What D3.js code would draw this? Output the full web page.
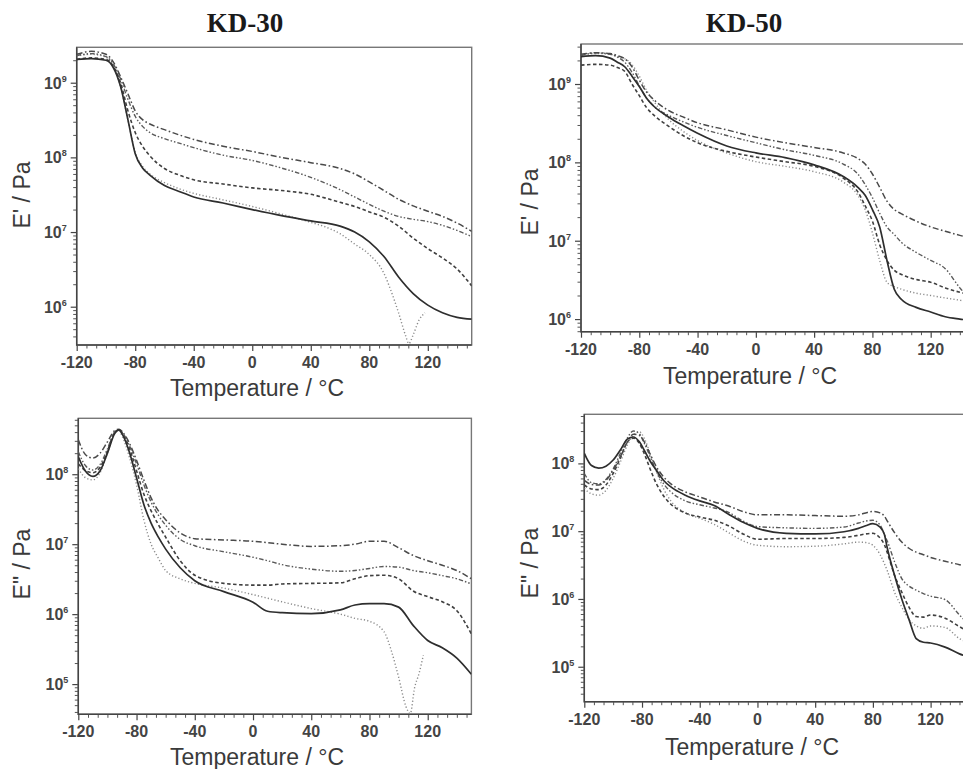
<!DOCTYPE html>
<html>
<head>
<meta charset="UTF-8">
<script src="https://d3js.org/d3.v7.min.js"></script>
<style>
    body {
        margin: 0;
        background-color: #fff;
    }

    svg text {
        font-family: "Liberation Sans", Arial, sans-serif;
        fill: #333;
    }

    .title {
        font-family: "Liberation Serif", "Times New Roman", serif;
        font-weight: bold;
        font-size: 27px;
        fill: #1a1a1a;
    }

    .tick-label {
        font-size: 16px;
        font-weight: bold;
        fill: #444;
    }

    .axis-title {
        font-size: 23px;
        fill: #3a3a3a;
    }

    .domain {
        display: none;
    }
</style>
</head>
<body>
<svg id="chart" width="963" height="769"></svg>
<script>
// ---- data (Pa) ----
var titles = ["KD-30", "KD-50"];
var xTicks = [-120, -80, -40, 0, 40, 80, 120];
var xTitle = "Temperature / °C";
var yTitleStorage = "E' / Pa";
var yTitleLoss = "E\" / Pa";

// KD-30, storage modulus E'
var tempsStorage30 = [-120, -110, -100, -95, -90, -85, -80, -75, -70, -60, -50, -40, -20, 0, 20, 40, 60, 70, 80, 90, 100, 110, 120, 130, 140, 150];
var kd30StorageSolid = [2.05e9, 2.1e9, 2.0e9, 1.6e9, 8.9e8, 3.2e8, 1.12e8, 7.2e7, 5.8e7, 4.2e7, 3.5e7, 2.95e7, 2.45e7, 2.0e7, 1.66e7, 1.41e7, 1.2e7, 1.0e7, 7.4e6, 4.7e6, 2.5e6, 1.5e6, 1.05e6, 8.3e5, 7.2e5, 6.8e5];
var kd30StorageDashed = [2.05e9, 2.15e9, 2.05e9, 1.66e9, 1.0e9, 4.2e8, 2.15e8, 1.41e8, 1.05e8, 7.1e7, 5.8e7, 5.0e7, 4.4e7, 3.9e7, 3.6e7, 3.2e7, 2.5e7, 2.2e7, 1.86e7, 1.58e7, 1.2e7, 8.3e6, 6.0e6, 4.5e6, 3.2e6, 1.9e6];
var kd30StorageDashDotDot = [2.3e9, 2.45e9, 2.24e9, 1.78e9, 1.12e9, 6.0e8, 3.55e8, 2.6e8, 2.15e8, 1.78e8, 1.55e8, 1.35e8, 1.07e8, 9.1e7, 7.2e7, 5.4e7, 3.7e7, 2.95e7, 2.35e7, 1.9e7, 1.62e7, 1.48e7, 1.38e7, 1.23e7, 1.05e7, 8.7e6];
var kd30StorageDashDot = [2.4e9, 2.63e9, 2.4e9, 1.9e9, 1.2e9, 7.1e8, 4.2e8, 3.2e8, 2.8e8, 2.35e8, 2.0e8, 1.74e8, 1.41e8, 1.2e8, 1.0e8, 8.5e7, 7.1e7, 6.0e7, 4.7e7, 3.6e7, 2.75e7, 2.24e7, 1.9e7, 1.62e7, 1.32e7, 1.02e7];
var tempsStorage30Dotted = [-120, -110, -100, -95, -90, -85, -80, -75, -70, -60, -50, -40, -20, 0, 20, 40, 50, 60, 70, 80, 90, 95, 100, 105, 107, 110, 114, 118];
var kd30StorageDotted = [2.3e9, 2.4e9, 2.2e9, 1.66e9, 8.9e8, 3.2e8, 1.17e8, 7.6e7, 6.0e7, 4.6e7, 3.8e7, 3.3e7, 2.7e7, 2.2e7, 1.74e7, 1.35e7, 1.17e7, 9.5e6, 6.9e6, 5.0e6, 2.8e6, 1.6e6, 8.3e5, 4.0e5, 3.2e5, 4.2e5, 6.6e5, 8.3e5];

// KD-50, storage modulus E'
var tempsStorage50 = [-120, -110, -100, -95, -90, -85, -80, -75, -70, -60, -50, -40, -20, 0, 20, 40, 60, 70, 75, 80, 85, 90, 95, 100, 110, 120, 130, 140, 150];
var kd50StorageSolid = [2.24e9, 2.3e9, 2.14e9, 1.9e9, 1.66e9, 1.26e9, 9.3e8, 6.6e8, 5.2e8, 3.8e8, 2.95e8, 2.35e8, 1.62e8, 1.32e8, 1.15e8, 9.3e7, 6.6e7, 4.8e7, 3.8e7, 2.5e7, 1.5e7, 5.6e6, 2.4e6, 1.78e6, 1.41e6, 1.23e6, 1.07e6, 1.0e6, 9.5e5];
var kd50StorageDashed = [1.74e9, 1.78e9, 1.74e9, 1.62e9, 1.45e9, 1.0e9, 7.1e8, 5.0e8, 4.0e8, 2.9e8, 2.2e8, 1.78e8, 1.38e8, 1.17e8, 1.02e8, 8.9e7, 6.3e7, 4.2e7, 2.8e7, 1.78e7, 8.9e6, 5.6e6, 4.2e6, 3.7e6, 3.2e6, 2.95e6, 2.5e6, 2.2e6, 2.0e6];
var kd50StorageDotted = [2.35e9, 2.45e9, 2.4e9, 2.24e9, 2.1e9, 1.78e9, 1.26e9, 8.3e8, 6.0e8, 3.55e8, 2.5e8, 1.9e8, 1.32e8, 1.02e8, 8.9e7, 7.6e7, 5.6e7, 3.8e7, 2.5e7, 1.26e7, 5.6e6, 2.95e6, 2.6e6, 2.4e6, 2.14e6, 2.0e6, 1.86e6, 1.74e6, 1.62e6];
var kd50StorageDashDot = [2.4e9, 2.5e9, 2.45e9, 2.3e9, 2.1e9, 1.66e9, 1.12e9, 7.9e8, 6.3e8, 4.6e8, 3.8e8, 3.2e8, 2.6e8, 2.1e8, 1.78e8, 1.55e8, 1.32e8, 1.12e8, 9.5e7, 7.1e7, 4.8e7, 3.2e7, 2.5e7, 2.2e7, 1.78e7, 1.5e7, 1.32e7, 1.17e7, 1.05e7];
var kd50StorageDashDotDot = [2.3e9, 2.5e9, 2.4e9, 2.2e9, 1.9e9, 1.41e9, 9.5e8, 6.6e8, 5.2e8, 4.0e8, 3.3e8, 2.8e8, 2.2e8, 1.78e8, 1.45e8, 1.23e8, 9.5e7, 7.1e7, 5.2e7, 3.55e7, 2.24e7, 1.5e7, 1.2e7, 9.5e6, 7.1e6, 5.6e6, 4.4e6, 2.5e6, 1.58e6];

// KD-30, loss modulus E"
var tempsLoss30 = [-120, -115, -110, -105, -100, -95, -92, -90, -85, -80, -75, -70, -65, -60, -50, -40, -20, 0, 10, 20, 40, 60, 70, 80, 90, 100, 110, 120, 130, 140, 150];
var kd30LossSolid = [1.78e8, 1.1e8, 9.3e7, 1.12e8, 2.0e8, 3.8e8, 4.3e8, 3.8e8, 2.1e8, 8.9e7, 3.7e7, 2.0e7, 1.26e7, 8.5e6, 4.6e6, 3.0e6, 2.1e6, 1.48e6, 1.1e6, 1.05e6, 1.02e6, 1.15e6, 1.35e6, 1.41e6, 1.41e6, 1.26e6, 6.9e5, 4.2e5, 3.3e5, 2.35e5, 1.38e5];
var kd30LossDashed = [1.41e8, 1.12e8, 1.05e8, 1.26e8, 2.14e8, 4.0e8, 4.3e8, 3.9e8, 2.4e8, 1.12e8, 5.2e7, 3.0e7, 1.9e7, 1.26e7, 5.8e6, 3.6e6, 2.75e6, 2.6e6, 2.6e6, 2.7e6, 2.75e6, 2.8e6, 3.2e6, 3.55e6, 3.6e6, 3.2e6, 2.14e6, 1.78e6, 1.5e6, 1.12e6, 5.2e5];
var kd30LossDashDotDot = [2.1e8, 1.32e8, 1.15e8, 1.38e8, 2.3e8, 4.0e8, 4.3e8, 4.0e8, 2.6e8, 1.41e8, 7.1e7, 4.0e7, 2.6e7, 1.86e7, 1.17e7, 9.5e6, 7.8e6, 6.5e6, 5.8e6, 5.1e6, 4.4e6, 4.1e6, 4.2e6, 4.5e6, 4.8e6, 4.7e6, 4.2e6, 3.9e6, 3.55e6, 3.2e6, 2.7e6];
var kd30LossDashDot = [3.1e8, 1.9e8, 1.7e8, 2.0e8, 2.9e8, 4.2e8, 4.4e8, 4.1e8, 2.8e8, 1.58e8, 8.3e7, 4.6e7, 3.0e7, 2.24e7, 1.45e7, 1.2e7, 1.15e7, 1.1e7, 1.05e7, 1.0e7, 9.3e6, 9.5e6, 1.0e7, 1.1e7, 1.1e7, 8.9e6, 6.9e6, 5.8e6, 5.0e6, 4.2e6, 3.2e6];
var tempsLoss30Dotted = [-120, -115, -110, -105, -100, -95, -92, -90, -85, -80, -75, -70, -65, -60, -50, -40, -20, 0, 20, 40, 60, 70, 80, 90, 95, 100, 105, 108, 111, 114, 117];
var kd30LossDotted = [1.2e8, 8.9e7, 8.3e7, 1.05e8, 2.0e8, 4.0e8, 4.2e8, 3.55e8, 1.78e8, 7.1e7, 2.24e7, 1.0e7, 6.3e6, 4.2e6, 3.2e6, 2.75e6, 2.35e6, 1.9e6, 1.5e6, 1.2e6, 1.0e6, 8.7e5, 7.9e5, 5.6e5, 3.0e5, 1.26e5, 4.8e4, 3.8e4, 8.9e4, 1.41e5, 2.6e5];

// KD-50, loss modulus E"
var tempsLoss50 = [-120, -115, -110, -105, -100, -95, -90, -86, -82, -78, -74, -70, -65, -60, -50, -40, -30, -20, -10, 0, 20, 40, 60, 70, 75, 80, 85, 88, 90, 95, 100, 105, 110, 115, 120, 130, 140, 150];
var kd50LossSolid = [1.41e8, 9.3e7, 8.5e7, 9.1e7, 1.12e8, 1.58e8, 2.3e8, 2.45e8, 2.1e8, 1.5e8, 1.05e8, 7.9e7, 5.6e7, 4.5e7, 3.4e7, 2.8e7, 2.4e7, 1.78e7, 1.35e7, 1.1e7, 9.3e6, 9.1e6, 9.8e6, 1.1e7, 1.2e7, 1.29e7, 1.15e7, 8.9e6, 5.6e6, 2.24e6, 1.0e6, 5.0e5, 2.6e5, 2.3e5, 2.24e5, 1.95e5, 1.55e5, 1.32e5];
var kd50LossDashDot = [5.6e7, 4.9e7, 4.8e7, 5.6e7, 7.9e7, 1.26e8, 2.1e8, 2.7e8, 2.6e8, 2.0e8, 1.32e8, 8.9e7, 6.3e7, 5.0e7, 3.8e7, 3.2e7, 2.7e7, 2.35e7, 1.95e7, 1.74e7, 1.74e7, 1.7e7, 1.66e7, 1.74e7, 1.86e7, 1.95e7, 1.86e7, 1.66e7, 1.41e7, 9.5e6, 6.9e6, 5.6e6, 4.9e6, 4.5e6, 4.1e6, 3.6e6, 3.2e6, 2.8e6];
var kd50LossDashDotDot = [7.1e7, 5.2e7, 5.0e7, 5.8e7, 8.3e7, 1.41e8, 2.4e8, 3.0e8, 2.75e8, 1.9e8, 1.2e8, 7.6e7, 5.0e7, 3.8e7, 2.8e7, 2.45e7, 2.2e7, 1.9e7, 1.41e7, 1.17e7, 1.12e7, 1.1e7, 1.15e7, 1.32e7, 1.41e7, 1.45e7, 1.23e7, 8.9e6, 7.1e6, 3.55e6, 2.0e6, 1.55e6, 1.35e6, 1.2e6, 1.1e6, 9.8e5, 5.8e5, 3.55e5];
var kd50LossDashed = [4.8e7, 4.2e7, 4.1e7, 4.8e7, 7.1e7, 1.2e8, 2.1e8, 2.35e8, 2.0e8, 1.32e8, 7.9e7, 5.0e7, 3.3e7, 2.5e7, 1.86e7, 1.62e7, 1.45e7, 1.2e7, 9.1e6, 7.6e6, 7.8e6, 7.8e6, 8.1e6, 8.7e6, 9.1e6, 9.3e6, 7.9e6, 6.3e6, 4.8e6, 2.24e6, 1.26e6, 7.6e5, 5.5e5, 5.4e5, 5.8e5, 5.2e5, 3.9e5, 3.0e5];
var kd50LossDotted = [4.3e7, 3.55e7, 3.4e7, 4.0e7, 6.0e7, 1.05e8, 1.9e8, 2.6e8, 2.95e8, 2.24e8, 1.32e8, 7.6e7, 4.2e7, 2.8e7, 1.86e7, 1.55e7, 1.26e7, 9.5e6, 7.2e6, 6.2e6, 5.9e6, 6.0e6, 6.5e6, 6.9e6, 6.8e6, 6.2e6, 4.5e6, 3.3e6, 2.6e6, 1.26e6, 7.6e5, 5.0e5, 4.0e5, 3.7e5, 4.0e5, 3.8e5, 2.6e5, 2.1e5];

// ---- drawing ----
var svg = d3.select("#chart");

// line styles, one per sample
var styles = {
    solid: { dash: null, color: "#2e2e2e", width: 1.7 },
    dotted: { dash: "1.2,2.2", color: "#8a8a8a", width: 1.4 },
    dashed: { dash: "3.5,2.5", color: "#404040", width: 1.6 },
    dashDot: { dash: "6,2.5,1.6,2.5", color: "#4a4a4a", width: 1.5 },
    dashDotDot: { dash: "4.5,2,1.5,2,1.5,2", color: "#5a5a5a", width: 1.4 }
};

function zip(temps, vals) {
    return temps.map(function (t, i) { return { t: t, v: vals[i] }; });
}

var panels = [
    {
        id: 1, left: 76.7, right: 471.7, top: 47.3, bottom: 345, yDomain: [3.07e5, 2.98e9],
        yTitle: yTitleStorage, yTitleX: 22, yTitleY: 195, xTitleX: 257, xTitleY: 396,
        title: titles[0], titleX: 245,
        series: [
            { d: zip(tempsStorage30Dotted, kd30StorageDotted), s: "dotted" },
            { d: zip(tempsStorage30, kd30StorageDashed), s: "dashed" },
            { d: zip(tempsStorage30, kd30StorageDashDotDot), s: "dashDotDot" },
            { d: zip(tempsStorage30, kd30StorageDashDot), s: "dashDot" },
            { d: zip(tempsStorage30, kd30StorageSolid), s: "solid" }
        ]
    },
    {
        id: 2, left: 581, right: 974.4, top: 44, bottom: 331.7, yDomain: [6.9e5, 3.24e9],
        yTitle: yTitleStorage, yTitleX: 530, yTitleY: 202, xTitleX: 750, xTitleY: 384,
        title: titles[1], titleX: 744,
        series: [
            { d: zip(tempsStorage50, kd50StorageDotted), s: "dotted" },
            { d: zip(tempsStorage50, kd50StorageDashed), s: "dashed" },
            { d: zip(tempsStorage50, kd50StorageDashDotDot), s: "dashDotDot" },
            { d: zip(tempsStorage50, kd50StorageDashDot), s: "dashDot" },
            { d: zip(tempsStorage50, kd50StorageSolid), s: "solid" }
        ]
    },
    {
        id: 3, left: 78.3, right: 471.4, top: 418.3, bottom: 714.3, yDomain: [3.7e4, 6.3e8],
        yTitle: yTitleLoss, yTitleX: 22, yTitleY: 564, xTitleX: 257, xTitleY: 765,
        series: [
            { d: zip(tempsLoss30Dotted, kd30LossDotted), s: "dotted" },
            { d: zip(tempsLoss30, kd30LossDashed), s: "dashed" },
            { d: zip(tempsLoss30, kd30LossDashDotDot), s: "dashDotDot" },
            { d: zip(tempsLoss30, kd30LossDashDot), s: "dashDot" },
            { d: zip(tempsLoss30, kd30LossSolid), s: "solid" }
        ]
    },
    {
        id: 4, left: 584.3, right: 973.9, top: 414.3, bottom: 701.7, yDomain: [3.05e4, 5.3e8],
        yTitle: yTitleLoss, yTitleX: 530, yTitleY: 563, xTitleX: 752, xTitleY: 755,
        series: [
            { d: zip(tempsLoss50, kd50LossDotted), s: "dotted" },
            { d: zip(tempsLoss50, kd50LossDashed), s: "dashed" },
            { d: zip(tempsLoss50, kd50LossDashDotDot), s: "dashDotDot" },
            { d: zip(tempsLoss50, kd50LossDashDot), s: "dashDot" },
            { d: zip(tempsLoss50, kd50LossSolid), s: "solid" }
        ]
    }
];

panels.forEach(drawPanel);

function drawPanel(p) {
    var x = d3.scaleLinear().domain([-120, 150]).range([p.left, p.right]);
    var y = d3.scaleLog().domain(p.yDomain).range([p.bottom, p.top]);
    var g = svg.append("g");

    g.append("clipPath").attr("id", "clip" + p.id)
        .append("rect")
        .attr("x", p.left).attr("y", p.top)
        .attr("width", p.right - p.left).attr("height", p.bottom - p.top);

    // x ticks: majors every 40, six minor steps between
    var xMinor = d3.range(-120, 150.001, 40 / 6).filter(function (t) {
        return !xTicks.some(function (m) { return Math.abs(m - t) < 0.01; });
    });
    g.append("g").attr("transform", "translate(0," + p.bottom + ")")
        .call(d3.axisBottom(x).tickValues(xMinor).tickSize(3.5).tickFormat(""))
        .selectAll("line").attr("stroke", "#555");
    g.append("g").attr("transform", "translate(0," + p.bottom + ")")
        .call(d3.axisBottom(x).tickValues(xTicks).tickSize(6).tickFormat(""))
        .selectAll("line").attr("stroke", "#444").attr("stroke-width", 1.2);

    g.selectAll(".xlab").data(xTicks).enter().append("text")
        .attr("class", "tick-label")
        .attr("x", function (d) { return x(d); })
        .attr("y", p.bottom + 23)
        .attr("text-anchor", "middle")
        .text(function (d) { return d; });

    // y ticks: log decades and 2..9 minors
    var lo = Math.floor(Math.log10(p.yDomain[0]));
    var hi = Math.ceil(Math.log10(p.yDomain[1]));
    var yMajor = [], yMinor = [];
    for (var e = lo; e <= hi; e++) {
        var dec = Math.pow(10, e);
        if (dec >= p.yDomain[0] && dec <= p.yDomain[1]) yMajor.push(dec);
        for (var k = 2; k <= 9; k++) {
            var v = k * dec;
            if (v >= p.yDomain[0] && v <= p.yDomain[1]) yMinor.push(v);
        }
    }
    g.append("g").attr("transform", "translate(" + p.left + ",0)")
        .call(d3.axisLeft(y).tickValues(yMinor).tickSize(3.5).tickFormat(""))
        .selectAll("line").attr("stroke", "#555");
    g.append("g").attr("transform", "translate(" + p.left + ",0)")
        .call(d3.axisLeft(y).tickValues(yMajor).tickSize(6).tickFormat(""))
        .selectAll("line").attr("stroke", "#444").attr("stroke-width", 1.2);

    var ylab = g.selectAll(".ylab").data(yMajor).enter().append("text")
        .attr("class", "tick-label")
        .attr("x", p.left - 10)
        .attr("y", function (d) { return y(d) + 6; })
        .attr("text-anchor", "end");
    ylab.append("tspan").text("10");
    ylab.append("tspan")
        .attr("dy", -7)
        .style("font-size", "9px")
        .text(function (d) { return Math.round(Math.log10(d)); });

    // frame
    g.append("rect")
        .attr("x", p.left).attr("y", p.top)
        .attr("width", p.right - p.left).attr("height", p.bottom - p.top)
        .attr("fill", "none").attr("stroke", "#777").attr("stroke-width", 1.4);
    g.append("path")
        .attr("d", "M" + p.left + "," + p.top + "V" + p.bottom + "H" + p.right)
        .attr("fill", "none").attr("stroke", "#444").attr("stroke-width", 1.5);

    // curves
    var line = d3.line()
        .x(function (d) { return x(d.t); })
        .y(function (d) { return y(d.v); })
        .curve(d3.curveMonotoneX);

    var plot = g.append("g").attr("clip-path", "url(#clip" + p.id + ")");
    p.series.forEach(function (sr) {
        var st = styles[sr.s];
        plot.append("path")
            .datum(sr.d)
            .attr("d", line)
            .attr("fill", "none")
            .attr("stroke", st.color)
            .attr("stroke-width", st.width)
            .attr("stroke-dasharray", st.dash);
    });

    // axis titles
    g.append("text")
        .attr("class", "axis-title")
        .attr("x", p.xTitleX).attr("y", p.xTitleY)
        .attr("text-anchor", "middle")
        .text(xTitle);
    g.append("text")
        .attr("class", "axis-title")
        .attr("transform", "translate(" + (p.yTitleX + 8) + "," + p.yTitleY + ") rotate(-90)")
        .attr("text-anchor", "middle")
        .text(p.yTitle);

    if (p.title) {
        svg.append("text")
            .attr("class", "title")
            .attr("x", p.titleX).attr("y", 32)
            .attr("text-anchor", "middle")
            .text(p.title);
    }
}
</script>
</body>
</html>
